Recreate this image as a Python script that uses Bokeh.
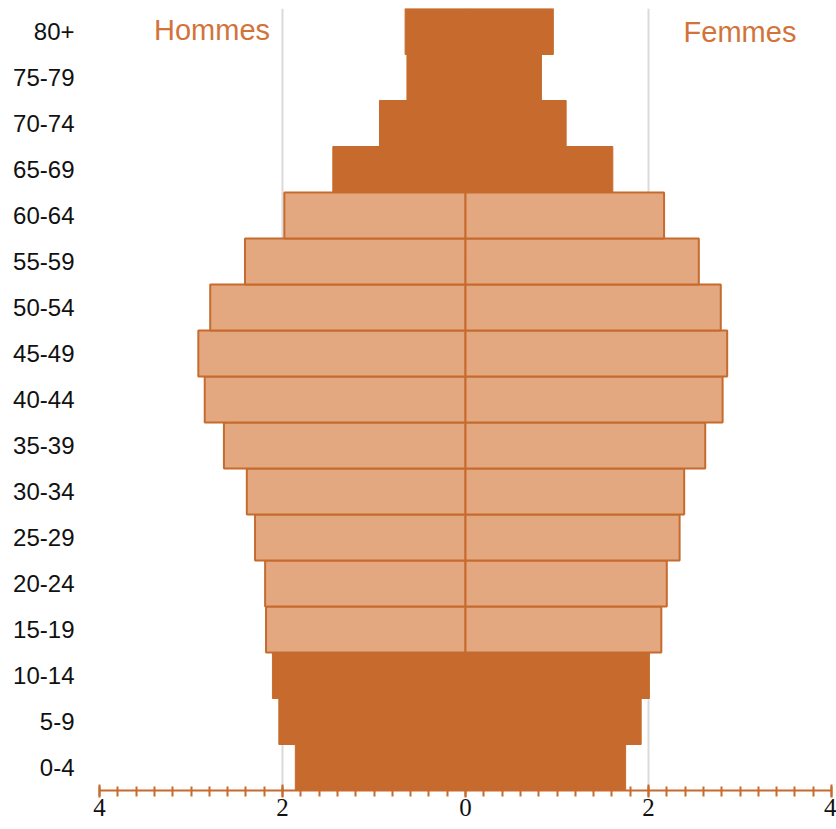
from bokeh.plotting import figure
from bokeh.models import FactorRange, Range1d, FixedTicker, ColumnDataSource
from bokeh.core.properties import value
from bokeh.embed import file_html
from bokeh.resources import INLINE

# Data (population share, %)
ages = ["0-4", "5-9", "10-14", "15-19", "20-24", "25-29", "30-34", "35-39",
        "40-44", "45-49", "50-54", "55-59", "60-64", "65-69", "70-74", "75-79", "80+"]
hommes = [1.86, 2.04, 2.11, 2.18, 2.19, 2.30, 2.39, 2.64, 2.85, 2.92, 2.79, 2.41, 1.98,
          1.45, 0.94, 0.64, 0.66]
femmes = [1.75, 1.92, 2.01, 2.14, 2.20, 2.34, 2.39, 2.62, 2.81, 2.86, 2.79, 2.55, 2.17,
          1.61, 1.10, 0.83, 0.96]
active_groups = ["15-19", "20-24", "25-29", "30-34", "35-39", "40-44", "45-49",
                 "50-54", "55-59", "60-64"]
x_tick_values = [-4, -2, 0, 2, 4]
x_tick_labels = ["4", "2", "0", "2", "4"]
series_titles = ["Hommes", "Femmes"]

DARK = "#C66B2D"
LIGHT = "#E3A880"
TEXT_ORANGE = "#D2743A"

p = figure(frame_width=732, frame_height=782, output_backend="svg", toolbar_location=None,
           y_range=FactorRange(*ages, range_padding=0),
           x_range=Range1d(-4, 4),
           min_border_left=99, min_border_right=5, min_border_top=8, min_border_bottom=30)
p.outline_line_color = None
p.background_fill_color = "white"

# grid
p.ygrid.grid_line_color = None
p.xgrid.ticker = FixedTicker(ticks=x_tick_values)
p.xgrid.grid_line_color = "#DADADA"
p.xgrid.grid_line_width = 2

# bars
dark_idx = [i for i, a in enumerate(ages) if a not in active_groups]
light_idx = [i for i, a in enumerate(ages) if a in active_groups]

dark_src = ColumnDataSource(dict(
    y=[ages[i] for i in dark_idx],
    left=[-hommes[i] for i in dark_idx],
    right=[femmes[i] for i in dark_idx]))
p.hbar(y="y", left="left", right="right", height=1.0, source=dark_src,
       fill_color=DARK, line_color=DARK, line_width=1)

light_m = ColumnDataSource(dict(
    y=[ages[i] for i in light_idx],
    left=[-hommes[i] for i in light_idx],
    right=[0] * len(light_idx)))
light_f = ColumnDataSource(dict(
    y=[ages[i] for i in light_idx],
    left=[0] * len(light_idx),
    right=[femmes[i] for i in light_idx]))
for src in (light_m, light_f):
    p.hbar(y="y", left="left", right="right", height=1.0, source=src,
           fill_color=LIGHT, line_color=DARK, line_width=2)

# titles
p.text(x=[-2.77, 3.0], y=[ages[-1], ages[-1]], text=series_titles,
       text_font=value("Liberation Sans"), text_font_size="29px",
       text_color=TEXT_ORANGE, text_align="center", text_baseline="middle",
       y_offset=[-2, 0])

# x axis
xa = p.xaxis[0]
xa.ticker = FixedTicker(ticks=x_tick_values,
                        minor_ticks=[round(-4 + 0.2 * k, 1) for k in range(41)])
xa.major_label_overrides = {v: l for v, l in zip(x_tick_values, x_tick_labels)}
xa.axis_line_color = DARK
xa.axis_line_width = 2
xa.major_tick_line_color = DARK
xa.major_tick_line_width = 2
xa.major_tick_in = 6
xa.major_tick_out = 7
xa.minor_tick_line_color = DARK
xa.minor_tick_line_width = 2
xa.minor_tick_in = 4
xa.minor_tick_out = 6
xa.major_label_text_font = "Liberation Sans Narrow"
xa.major_label_text_font_size = "25px"
xa.major_label_text_color = "#111111"
xa.major_label_standoff = 1

# y axis
ya = p.yaxis[0]
ya.axis_line_color = None
ya.major_tick_line_color = None
ya.minor_tick_line_color = None
ya.major_tick_out = 0
ya.major_tick_in = 0
ya.major_label_text_font = "Liberation Sans"
ya.major_label_text_font_size = "24px"
ya.major_label_text_color = "#111111"
ya.major_label_standoff = 25

open("out.html", "w").write(file_html(p, INLINE))
